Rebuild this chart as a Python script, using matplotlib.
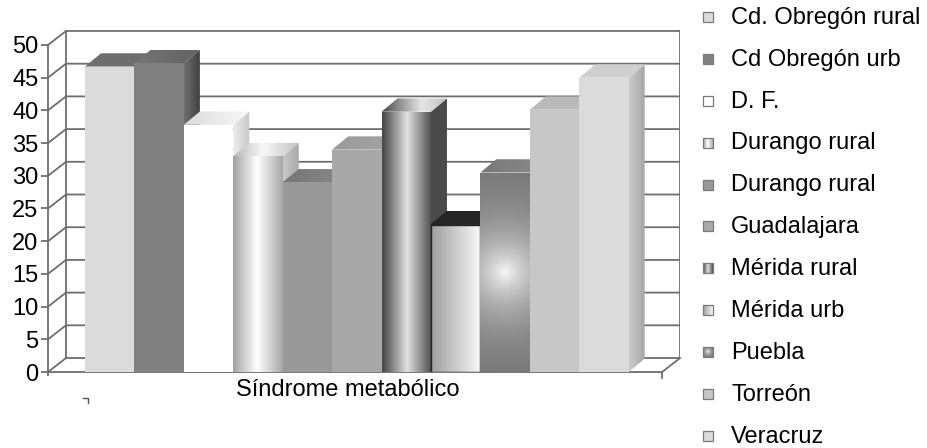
import numpy as np
import matplotlib
matplotlib.use('Agg')
from matplotlib import pyplot as plt
from matplotlib.patches import Polygon, Rectangle

plt.rcParams['font.family'] = ['Liberation Sans', 'DejaVu Sans']

categories = ['Cd. Obregón rural', 'Cd Obregón urb', 'D. F.', 'Durango rural',
              'Durango rural', 'Guadalajara', 'Mérida rural', 'Mérida urb',
              'Puebla', 'Torreón', 'Veracruz']
values = [46.7, 47.2, 37.8, 33.0, 29.0, 34.0, 39.8, 22.5, 30.5, 40.1, 45.0]
yticks = list(range(0, 55, 5))
xlabel = 'Síndrome metabólico'

# face shading per bar: a grey level, a list of (pos, level) stops, or 'radial'
styles = [
    dict(front=0.86, top=0.43, side=0.6),
    dict(front=0.50, top=[(0, .46), (1, .38)], side=[(0, .44), (1, .24)]),
    dict(front=1.0, top=[(0, .86), (1, .97)], side=[(0, .93), (1, .78)]),
    dict(front=[(0, .64), (.48, 1.0), (1, .66)], top=[(0, .72), (.45, .97), (1, .76)],
         side=[(0, .78), (1, .66)]),
    dict(front=0.60, top=[(0, .46), (1, .54)], side=0.45),
    dict(front=0.66, top=[(0, .60), (1, .64)], side=0.55),
    dict(front=[(0, .28), (.15, .45), (.5, .88), (.75, .6), (1, .3)],
         top=[(0, .3), (.6, .9), (1, .75)], side=0.29),
    dict(front=[(0, .62), (1, .97)], top=0.15, side=0.2, edge=True),
    dict(front='radial', top=[(0, .47), (1, .54)], side=0.4),
    dict(front=0.78, top=0.73, side=0.7),
    dict(front=0.86, top=0.81, side=[(0, .80), (1, .64)]),
]

X0, XR = -0.749, 12.04     # left front corner / right back corner
DX, DY = 0.364, 2.14       # wall depth offset
BDX, BDY = 0.324, 2.03     # bar depth offset
PX_X, PX_Y = 49.4, 6.54    # pixels per unit


def ramp(stops, n=64):
    pos = [s[0] for s in stops]
    lev = [s[1] for s in stops]
    return np.interp(np.linspace(0, 1, n), pos, lev)[None, :]


def paint(ax, verts, shade, z, w=1.0, h=1.0, rad=45.0):
    poly = Polygon(verts, closed=True, facecolor='none', edgecolor='none', zorder=z)
    ax.add_patch(poly)
    if isinstance(shade, (float, int)):
        poly.set_facecolor(str(float(shade)))
        return poly
    if shade == 'radial':
        gx = np.linspace(-0.5, 0.5, 60) * w * PX_X
        gy = np.linspace(-0.5, 0.5, 200) * h * PX_Y
        xx, yy = np.meshgrid(gx, gy)
        d = np.hypot(xx, yy)
        img = 0.42 + 0.55 * np.exp(-d / rad)
    else:
        img = ramp(shade)
    xs = [p[0] for p in verts]
    ys = [p[1] for p in verts]
    im = ax.imshow(img, extent=[min(xs), max(xs), min(ys), max(ys)], origin='lower',
                   cmap='gray', vmin=0, vmax=1, aspect='auto',
                   interpolation='bilinear', zorder=z)
    im.set_clip_path(poly)
    return poly


fig = plt.figure(figsize=(9.27, 4.48), dpi=100)
ax = fig.add_axes([0.05178, 0.1696, 0.6818, 0.7665])
grid_c = '#6e6e6e'

# walls and gridlines
for v in yticks:
    ax.plot([X0, X0 + DX, XR], [v, v + DY, v + DY], color=grid_c, lw=1.3, zorder=1)
ax.plot([X0 + DX, X0 + DX], [DY, 50 + DY], color=grid_c, lw=1.3, zorder=1)
ax.plot([XR, XR], [DY, 50 + DY], color=grid_c, lw=1.3, zorder=1)
ax.plot([X0, XR - DX, XR], [0, 0, DY], color=grid_c, lw=1.3, zorder=1, clip_on=False)
ax.plot([XR - DX, XR - DX], [0, -0.9], color=grid_c, lw=1.3, clip_on=False)
ax.plot([X0, X0], [0, -0.5], color=grid_c, lw=1.3, clip_on=False)
ax.plot([-0.04, 0.06, 0.06], [-3.98, -3.98, -4.7], color='#555555', lw=1, clip_on=False)

# bars, left to right so each front face hides the previous side face
for i, (val, st) in enumerate(zip(values, styles)):
    z = 2 + i * 0.1
    l, r = i, i + 1
    side = [(r, 0), (r + BDX, BDY), (r + BDX, val + BDY), (r, val)]
    top = [(l, val), (l + BDX, val + BDY), (r + BDX, val + BDY), (r, val)]
    front = [(l, 0), (r, 0), (r, val), (l, val)]
    paint(ax, side, st['side'], z)
    paint(ax, top, st['top'], z + 0.01)
    paint(ax, front, st['front'], z + 0.02, w=1.0, h=val)
    if st.get('edge'):
        ax.add_patch(Polygon(front, closed=True, facecolor='none', edgecolor='#222222',
                             lw=1.0, zorder=z + 0.03))
        ax.add_patch(Polygon(top, closed=True, facecolor='none', edgecolor='#222222',
                             lw=0.8, zorder=z + 0.03))

ax.text(5.32, -2.8, xlabel, ha='center', va='center', fontsize=17, clip_on=False)

ax.set_xlim(X0, XR)
ax.set_ylim(0, 52.5)
ax.set_yticks(yticks)
ax.set_xticks([])
ax.tick_params(axis='y', direction='out', length=5, width=1.3, color=grid_c,
               labelsize=17, pad=2)
for s in ['top', 'right', 'bottom']:
    ax.spines[s].set_visible(False)
ax.spines['left'].set_bounds(0, 50)
ax.spines['left'].set_color(grid_c)
ax.spines['left'].set_linewidth(1.3)
ax.patch.set_alpha(0)

# legend
lg = fig.add_axes([700 / 927, 0, 227 / 927, 1])
lg.axis('off')
hs = 0.12
for i, (name, st) in enumerate(zip(categories, styles)):
    sq = [(3, i - hs), (13, i - hs), (13, i + hs), (3, i + hs)]
    paint(lg, sq, st['front'], 2, w=10 / PX_X, h=10 / PX_Y, rad=3.0)
    lg.add_patch(Rectangle((3, i - hs), 10, 2 * hs, facecolor='none',
                           edgecolor='#7a7a7a', lw=0.9, zorder=3))
    lg.text(31, i + 0.02, name, ha='left', va='center', fontsize=17)
lg.set_xlim(0, 227)
lg.set_ylim(10.29, -0.406)

fig.savefig('out.png', dpi=100)
